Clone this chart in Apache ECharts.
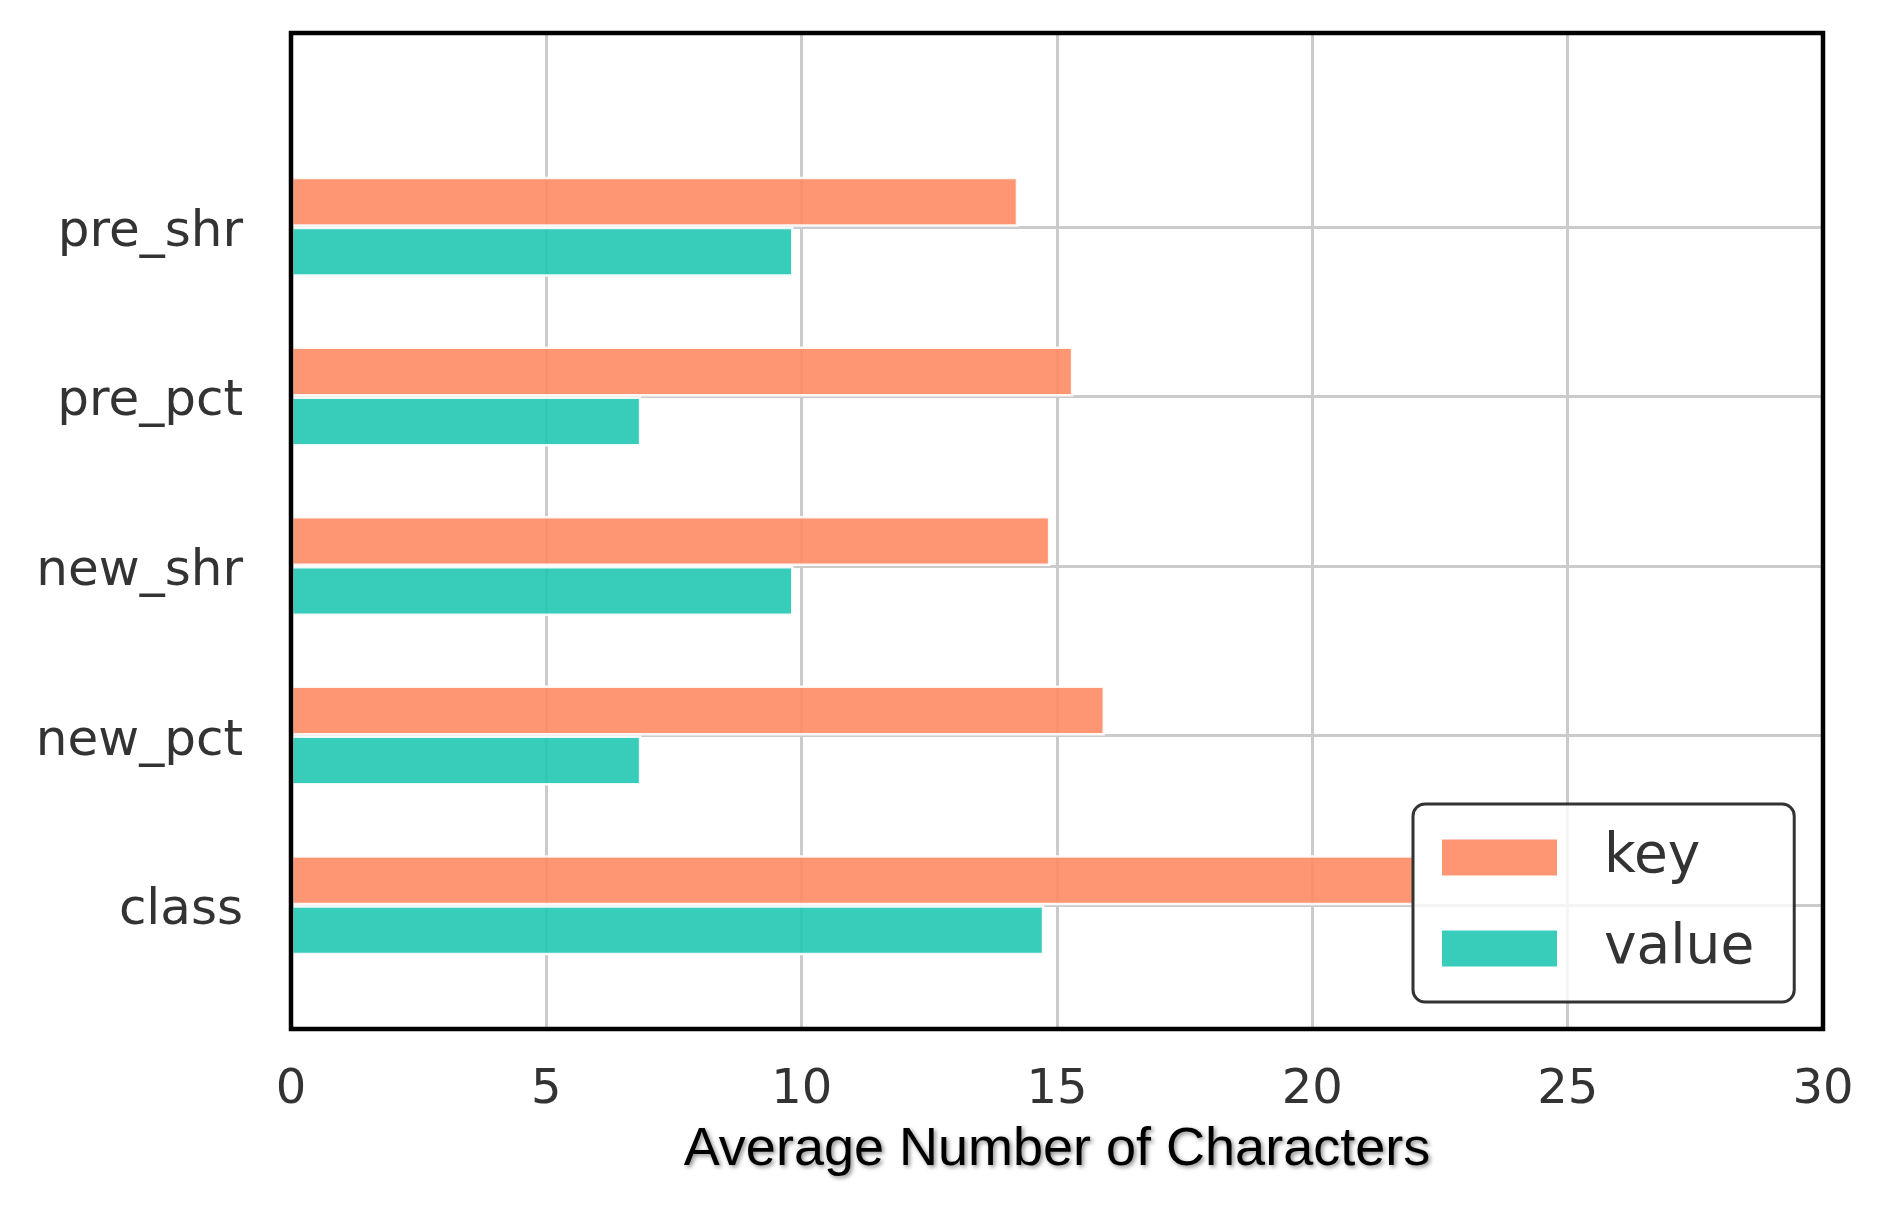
<!DOCTYPE html>
<html>
<head>
<meta charset="utf-8">
<script src="https://cdn.jsdelivr.net/npm/echarts@6/dist/echarts.min.js"></script>
<style>
html,body{margin:0;padding:0;background:#fff;}
#chart{width:1884px;height:1229px;}
</style>
</head>
<body>
<div id="chart"></div>
<script>
const categories = ['pre_shr', 'pre_pct', 'new_shr', 'new_pct', 'class'];
const keyValues = [14.24, 15.32, 14.87, 15.94, 22.0];
const valueValues = [9.84, 6.86, 9.84, 6.86, 14.75];
const xTicks = [0, 5, 10, 15, 20, 25, 30];
const seriesNames = ['key', 'value'];
const xTitle = 'Average Number of Characters';

const chart = echarts.init(document.getElementById('chart'));
const tickFont = 'DejaVu Sans';
chart.setOption({
  animation: false,
  backgroundColor: '#ffffff',
  grid: [
    { left: 291, top: 33, width: 1532, height: 996, show: true, borderColor: '#000', borderWidth: 4.5, backgroundColor: 'transparent', z: 5 },
    { left: 291, top: 142, width: 1532, height: 848, show: false }
  ],
  xAxis: [
    {
      gridIndex: 0, type: 'value', min: xTicks[0], max: xTicks[xTicks.length - 1], interval: 5,
      axisLine: { show: false }, axisTick: { show: false },
      axisLabel: { fontFamily: tickFont, fontSize: 48, color: '#333', margin: 38 },
      splitLine: { show: true, lineStyle: { color: '#cbcbcb', width: 3 } },
      name: xTitle, nameLocation: 'middle', nameGap: 94,
      nameTextStyle: { fontFamily: 'Liberation Sans', fontSize: 54, color: '#000',
        textShadowColor: 'rgba(0,0,0,0.45)', textShadowBlur: 4, textShadowOffsetX: 2, textShadowOffsetY: 2 }
    },
    {
      gridIndex: 1, type: 'value', min: xTicks[0], max: xTicks[xTicks.length - 1], interval: 5, show: false,
      splitLine: { show: false }
    }
  ],
  yAxis: [
    { gridIndex: 0, type: 'value', min: 0, max: 1, show: false, splitLine: { show: false } },
    {
      gridIndex: 1, type: 'category', data: categories, inverse: true,
      axisLine: { show: false }, axisTick: { show: false },
      axisLabel: {
        margin: 48,
        formatter: '{t|{value}}',
        rich: { t: { fontFamily: tickFont, fontSize: 50, color: '#333', padding: [12, 0, 0, 0] } }
      },
      splitLine: { show: true, alignWithLabel: true, lineStyle: { color: '#cbcbcb', width: 3 } }
    }
  ],
  legend: {
    orient: 'vertical', left: 1413, top: 804,
    data: seriesNames,
    icon: 'rect',
    itemWidth: 115, itemHeight: 36, itemGap: 36,
    padding: [26, 40, 26, 29],
    backgroundColor: 'rgba(255,255,255,0.8)',
    borderColor: '#333', borderWidth: 3, borderRadius: 12,
    itemStyle: { borderWidth: 0 },
    textStyle: { fontFamily: tickFont, fontSize: 55, color: '#333', lineHeight: 46, padding: [0, 0, 0, 42] }
  },
  series: [
    {
      name: seriesNames[0], type: 'bar', xAxisIndex: 1, yAxisIndex: 1, data: keyValues,
      barWidth: 50, barGap: '0%',
      itemStyle: { color: '#fe8b64', opacity: 0.9, borderColor: '#fff', borderWidth: 2.5 }
    },
    {
      name: seriesNames[1], type: 'bar', xAxisIndex: 1, yAxisIndex: 1, data: valueValues,
      barWidth: 50, barGap: '0%',
      itemStyle: { color: '#22c7b2', opacity: 0.9, borderColor: '#fff', borderWidth: 2.5 }
    }
  ]
});
</script>
</body>
</html>
